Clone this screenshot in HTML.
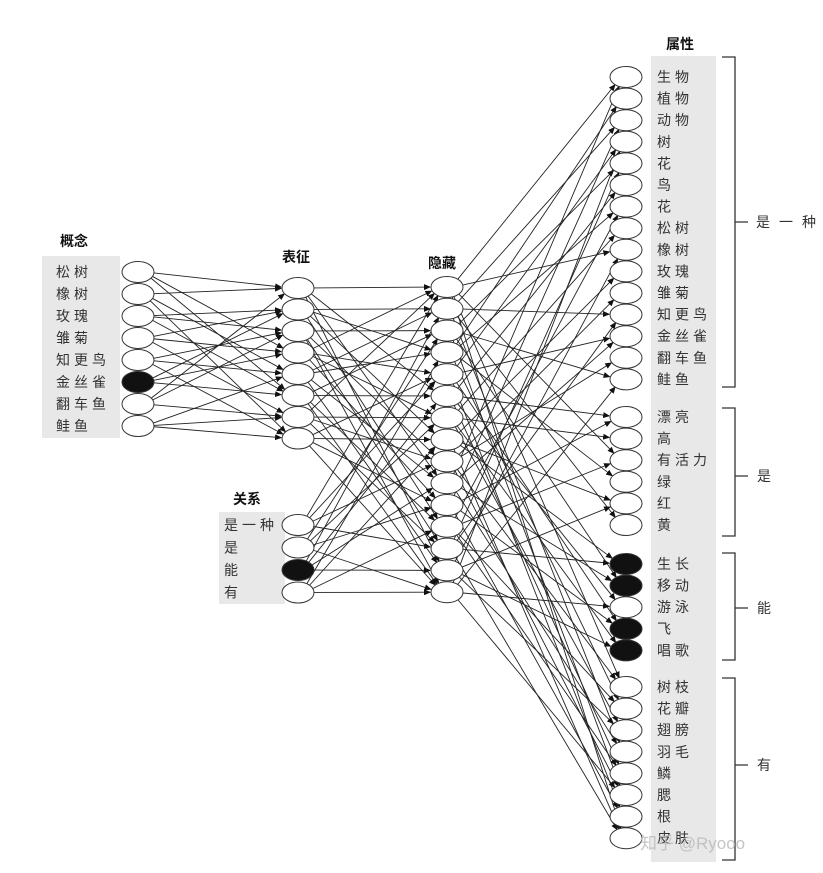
<!DOCTYPE html>
<html><head><meta charset="utf-8"><style>
body{margin:0;background:#fff;}
svg{display:block;font-family:"Liberation Sans","Noto Sans CJK SC",sans-serif;}
.lbl{font-size:14px;fill:#333;}
.ttl{font-size:14px;font-weight:bold;fill:#111;}
</style></head><body>
<svg id="net" width="823" height="873" viewBox="0 0 823 873" xmlns="http://www.w3.org/2000/svg">
<defs><marker id="ar" markerWidth="7" markerHeight="6" refX="6" refY="3" orient="auto" markerUnits="userSpaceOnUse"><path d="M0,0 L7,3 L0,6 z" fill="#111"/></marker></defs>
<rect x="42" y="256" width="78" height="182" fill="#e8e8e8"/>
<rect x="219" y="512" width="66" height="92" fill="#e8e8e8"/>
<rect x="651" y="56" width="65" height="806" fill="#e8e8e8"/>
<text class="ttl" x="60" y="246">概念</text>
<text class="ttl" x="282" y="262">表征</text>
<text class="ttl" x="428" y="268">隐藏</text>
<text class="ttl" x="233" y="504">关系</text>
<text class="ttl" x="666" y="49">属性</text>
<g id="edges"></g>
<g id="nodes"></g>
<g id="labels"></g>
<g stroke="#333" stroke-width="1.3" fill="none">
<path d="M722,57 H735 V387 H722 M735,222 H748"/>
<path d="M722,408 H735 V536 H722 M735,476 H748"/>
<path d="M722,553 H735 V660 H722 M735,608 H748"/>
<path d="M722,678 H735 V860 H722 M735,765 H748"/>
</g>
<text class="lbl" x="756" y="227" letter-spacing="9">是一种</text>
<text class="lbl" x="757" y="481">是</text>
<text class="lbl" x="757" y="613">能</text>
<text class="lbl" x="757" y="770">有</text>
<text x="640" y="849" font-size="17" fill="#bbb" opacity="0.85">知乎 @Ryooo</text>
</svg>
<script>
const conceptLabels=["松树","橡树","玫瑰","雏菊","知更鸟","金丝雀","翻车鱼","鲑鱼"];
const conceptActive=[0,0,0,0,0,1,0,0];
const relationLabels=["是一种","是","能","有"];
const relationActive=[0,0,1,0];
const attrLabels=["生物","植物","动物","树","花","鸟","花","松树","橡树","玫瑰","雏菊","知更鸟","金丝雀","翻车鱼","鲑鱼","漂亮","高","有活力","绿","红","黄","生长","移动","游泳","飞","唱歌","树枝","花瓣","翅膀","羽毛","鳞","腮","根","皮肤"];
const attrActive=[0,0,0,0,0,0,0,0,0,0,0,0,0,0,0,0,0,0,0,0,0,1,1,0,1,1,0,0,0,0,0,0,0,0];
const attrGroup=[0,0,0,0,0,0,0,0,0,0,0,0,0,0,0,1,1,1,1,1,1,2,2,2,2,2,3,3,3,3,3,3,3,3];
const conceptToRep=[[0,0],[0,3],[0,5],[1,0],[1,4],[1,7],[2,1],[2,5],[2,2],[3,3],[3,1],[3,6],[4,2],[4,4],[4,7],[5,5],[5,1],[5,3],[6,6],[6,0],[6,2],[7,7],[7,4],[7,6]];
const repToHidden=[[0,0],[0,5],[0,9],[0,13],[1,1],[1,7],[1,11],[1,3],[2,2],[2,8],[2,12],[2,14],[3,0],[3,4],[3,10],[3,6],[4,3],[4,9],[4,13],[4,1],[5,5],[5,11],[5,14],[5,2],[6,6],[6,12],[6,8],[6,0],[7,7],[7,10],[7,14],[7,4]];
const relToHidden=[[0,0],[0,4],[0,8],[0,12],[1,2],[1,6],[1,10],[1,14],[2,1],[2,5],[2,9],[2,13],[3,3],[3,7],[3,11],[3,14]];
const hiddenToAttr=[[0,0],[0,8],[0,17],[0,26],[0,33],[1,2],[1,11],[1,20],[1,29],[2,4],[2,14],[2,22],[2,31],[3,1],[3,6],[3,18],[3,27],[4,3],[4,12],[4,24],[4,32],[5,5],[5,15],[5,23],[5,30],[6,7],[6,16],[6,25],[6,28],[7,9],[7,19],[7,21],[7,33],[8,10],[8,13],[8,26],[8,31],[9,0],[9,12],[9,22],[9,29],[10,2],[10,15],[10,24],[10,32],[11,6],[11,17],[11,27],[11,30],[12,4],[12,11],[12,21],[12,33],[13,8],[13,19],[13,25],[13,28],[14,3],[14,14],[14,23],[14,31]];
const NS="http://www.w3.org/2000/svg";
const conceptX=138,repX=298,hidX=447,attrX=626,RX=16,RY=10.5;
function conceptY(i){return 272+i*22;}
function repY(i){return 288+i*21.5;}
function relY(i){return 525+i*22.5;}
function hidY(i){return 287+i*21.8;}
const groupStart=[77,417,564,687],groupFirst=[0,15,21,26];
function attrY(i){const g=attrGroup[i];return groupStart[g]+(i-groupFirst[g])*21.6;}
const eg=document.getElementById('edges'),ng=document.getElementById('nodes'),lg=document.getElementById('labels');
function edge(x1,y1,x2,y2,name){
  const dx=x2-x1,dy=y2-y1,L=Math.hypot(dx,dy);
  const l=document.createElementNS(NS,'line');
  l.setAttribute('x1',x1+dx/L*RX);l.setAttribute('y1',y1+dy/L*RX*0.6);
  l.setAttribute('x2',x2-dx/L*(RX+1));l.setAttribute('y2',y2-dy/L*(RX+1)*0.6);
  l.setAttribute('stroke','#222');l.setAttribute('stroke-width','0.9');l.setAttribute('marker-end','url(#ar)');
  
  
  eg.appendChild(l);
}
conceptToRep.forEach(p=>edge(conceptX,conceptY(p[0]),repX,repY(p[1]),'edge-concept-representation'));
repToHidden.forEach(p=>edge(repX,repY(p[0]),hidX,hidY(p[1]),'edge-representation-hidden'));
relToHidden.forEach(p=>edge(repX,relY(p[0]),hidX,hidY(p[1]),'edge-relation-hidden'));
hiddenToAttr.forEach(p=>edge(hidX,hidY(p[0]),attrX,attrY(p[1]),'edge-hidden-attribute'));
function node(x,y,filled,name){
  const e=document.createElementNS(NS,'ellipse');
  e.setAttribute('cx',x);e.setAttribute('cy',y);e.setAttribute('rx',RX);e.setAttribute('ry',RY);
  e.setAttribute('fill',filled?'#111':'#fff');e.setAttribute('stroke','#333');e.setAttribute('stroke-width','1');
  
  
  ng.appendChild(e);
}
function label(x,y,t,name){
  const e=document.createElementNS(NS,'text');
  e.setAttribute('x',x);e.setAttribute('y',y+5);e.setAttribute('class','lbl');e.setAttribute('letter-spacing','4');
  e.textContent=t;
  
  
  lg.appendChild(e);
}
conceptLabels.forEach((t,i)=>{node(conceptX,conceptY(i),conceptActive[i],'concept-node');label(56,conceptY(i),t,'concept-label');});
for(let i=0;i<8;i++)node(repX,repY(i),0,'representation-node');
relationLabels.forEach((t,i)=>{node(repX,relY(i),relationActive[i],'relation-node');label(224,relY(i),t,'relation-label');});
for(let i=0;i<15;i++)node(hidX,hidY(i),0,'hidden-node');
attrLabels.forEach((t,i)=>{node(attrX,attrY(i),attrActive[i],'attribute-node');label(657,attrY(i),t,'attribute-label');});
</script>
</body></html>
